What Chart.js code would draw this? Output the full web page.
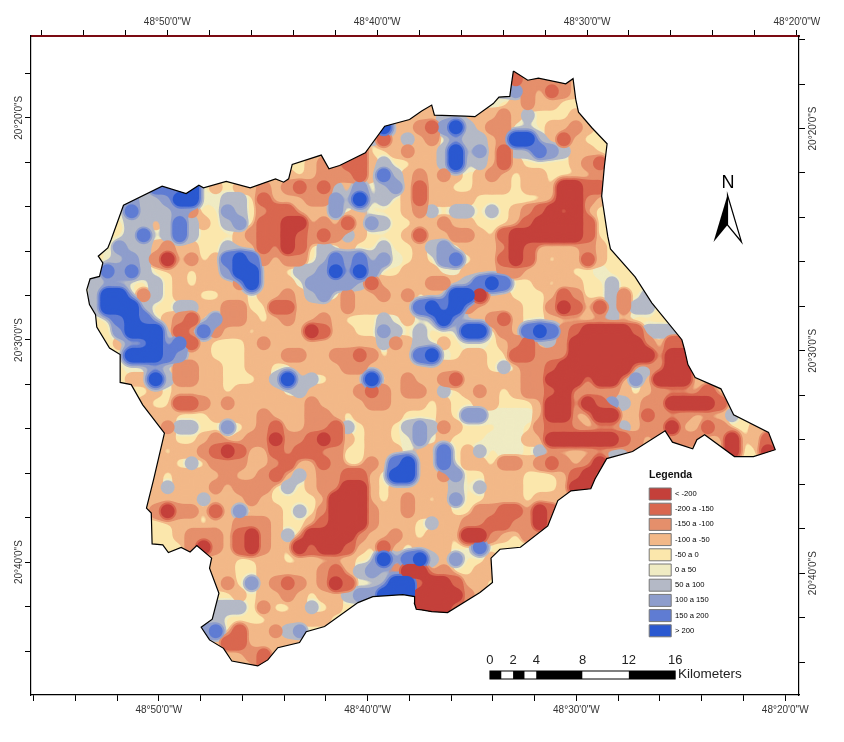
<!DOCTYPE html>
<html>
<head>
<meta charset="utf-8">
<title>Legenda</title>
<script src="https://cdn.jsdelivr.net/npm/chart.js@4/dist/chart.umd.min.js"></script>
<style>
    html, body { margin: 0; padding: 0; background: #fff; }
    canvas { display: block; }
</style>
</head>
<body>
<svg width="0" height="0" style="position:absolute">
    <filter id="smooth" color-interpolation-filters="sRGB">
        <feGaussianBlur stdDeviation="4.5"/>
        <feComponentTransfer><feFuncA type="linear" slope="12" intercept="-4.9"/></feComponentTransfer>
    </filter>
</svg>
<canvas id="mapChart" width="844" height="742"></canvas>
<script>
// Tick values, in minutes of arc
const lonTicks = [56, 54, 52, 50, 48, 46, 44, 42, 40, 38, 36, 34, 32, 30, 28, 26, 24, 22, 20];
const latTicksLeft = [18, 20, 22, 24, 26, 28, 30, 32, 34, 36, 38, 40, 42, 44];
const latTicksRight = [16, 18, 20, 22, 24, 26, 28, 30, 32, 34, 36, 38, 40, 42, 44];
const kmTicks = [0, 2, 4, 8, 12, 16];
const kmSegments = [0, 1, 2, 3, 4, 8, 12, 16];

const classLabels = ['< -200', '-200 a -150', '-150 a -100', '-100 a -50', '-50 a 0', '0 a 50', '50 a 100', '100 a 150', '150 a 200', '> 200'];

// Outline of the basin: minutes west of 48 degrees, minutes south of 20 degrees
const outlineLon = [33.02, 32.33, 31.82, 30.51, 30.16, 30.03, 29.90, 29.26, 28.53, 28.66, 28.79, 28.50, 28.37, 27.19, 26.39, 24.95, 24.82, 24.66, 24.31, 23.08, 22.47, 20.80, 20.48, 21.52, 22.43, 23.86, 24.23, 24.43, 25.40, 25.75, 27.31, 28.55, 29.11, 29.31, 30.26, 30.89, 31.37, 32.68, 33.66, 34.09, 34.02, 34.62, 36.17, 36.93, 37.41, 37.67, 37.76, 37.75, 38.31, 39.75, 40.46, 42.06, 42.94, 43.26, 44.30, 44.78, 45.26, 46.50, 46.90, 47.57, 47.97, 47.44, 47.12, 47.57, 47.47, 48.18, 48.50, 48.93, 49.54, 49.81, 50.32, 50.36, 50.59, 50.25, 49.73, 50.77, 51.32, 51.85, 51.85, 52.36, 52.97, 53.03, 53.32, 53.45, 53.29, 52.84, 52.68, 52.90, 52.44, 52.28, 51.69, 49.84, 48.69, 48.08, 47.86, 46.77, 45.62, 44.41, 44.02, 43.78, 43.61, 42.22, 41.85, 41.34, 40.11, 39.18, 37.99, 37.41, 36.93, 36.80, 35.34, 34.86, 33.98, 33.71, 33.19, 33.10];
const outlineLat = [17.90, 18.31, 18.22, 18.47, 18.24, 19.18, 19.75, 20.45, 21.17, 22.18, 23.53, 25.33, 25.90, 27.16, 28.33, 29.99, 30.44, 31.11, 31.69, 32.20, 33.37, 34.16, 34.94, 35.25, 35.25, 34.27, 34.49, 34.90, 34.60, 34.09, 35.02, 35.34, 36.26, 36.70, 36.79, 37.23, 38.37, 39.33, 39.42, 39.82, 40.92, 41.37, 42.27, 42.23, 42.15, 42.12, 41.85, 41.55, 41.46, 41.55, 41.82, 42.90, 43.13, 43.62, 43.85, 44.40, 44.67, 44.45, 43.88, 43.50, 42.93, 42.57, 41.40, 40.27, 39.82, 39.25, 39.54, 39.34, 39.57, 39.22, 39.18, 37.79, 37.57, 36.29, 34.19, 32.92, 32.01, 31.91, 30.66, 30.36, 29.42, 28.86, 28.41, 27.74, 27.25, 27.14, 26.53, 26.23, 25.86, 25.48, 23.94, 23.08, 23.41, 23.04, 23.15, 22.86, 23.15, 22.75, 22.90, 22.75, 22.10, 21.68, 22.30, 22.15, 21.58, 20.38, 20.08, 19.70, 19.43, 19.88, 19.93, 19.95, 19.36, 19.07, 19.04, 18.42];

// Grid origin and step, in minutes of arc (west edge first, north row first)
const gridLon0 = 53.6;
const gridLonStep = 0.575;
const gridLat0 = 17.73;
const gridLatStep = 0.54;

// Class: 0 is < -200, 9 is > 200, dot is outside
const gridRows = [
    "..... ..... ..... ..... ..... ..... ..... .22..",
    "..... ..... ..... ..... ..... ..... ..... .1222 23...",
    "..... ..... ..... ..... ..... ..... ....6 67231 23...",
    "..... ..... ..... ..... ..... ....3 ....5 43233 44...",
    "..... ..... ..... ..... ..... ...33 66333 23644 43...",
    "..... ..... ..... ..... ..... 93321 79632 24543 323..",
    "..... ..... ..... ..... ....6 13632 46663 29963 1344.",
    "..... ..... ..... ..... ...14 43233 69473 16687 6334.",
    "..... ..... ..... ...43 2.113 64433 69563 13444 4321.",
    "..... ..... ..... ..343 22213 86323 23432 34334 4432.",
    "..... .8879 43433 23212 16374 67313 34433 34334 0011.",
    "....7 66799 45664 14332 27494 64313 33344 44443 0023.",
    "...58 66672 44764 21143 37434 44326 46646 43210 1034.",
    "...46 63686 34674 11004 25137 64433 23344 43100 0014.",
    "..446 84686 44432 11012 12634 44313 32234 10000 0014.",
    "..576 63233 44634 12014 64344 64436 74333 20133 4323.",
    "..467 62032 43898 24224 68786 75434 78433 10134 33134",
    "..878 64434 33799 33466 79797 44333 55333 22333 34454 4....",
    ".6644 46434 33329 33357 77761 33332 23689 84434 33446 44...",
    ".6994 26433 44334 33236 74233 23243 49903 34443 12446 246..",
    ".6999 64466 33224 41133 33233 33389 89233 33442 01316 266..",
    "..489 84321 47223 43243 23444 65344 94332 13443 33446 5444.",
    "..479 99413 82334 33330 13344 76464 44994 23898 21000 01666",
    "..433 49481 34443 23333 33433 62364 34554 32136 20000 00251 1....",
    "...49 99873 34443 33223 32212 43389 54334 41122 20000 00030 0....",
    "...45 44422 33443 34433 33223 33333 33334 64221 00000 03620 0....",
    "...43 39622 33444 36936 43349 53233 21333 33220 00200 37300 04...",
    "....4 43433 33433 33463 33321 23223 64323 43221 03432 34322 3313.",
    "..... 34411 23233 33332 33332 23334 34433 44430 02017 63230 0001.",
    "..... .3344 43333 23332 23433 33444 34775 55530 03300 43122 23336",
    "..... ..266 44743 21332 21643 34676 23444 55421 12433 63220 34124 43...",
    "..... ..344 32432 20221 01343 34574 34445 55330 00000 12322 22330 431..",
    "..... .3433 21014 31211 22443 33433 84364 55463 33336 62... ....0 440..",
    "..... .3346 42223 32135 12442 38933 84334 22321 2320.",
    "..... .3433 33233 21363 22113 49933 27443 33444 310..",
    "..... .3633 32322 24643 22003 43333 36463 33444 300..",
    "..... .3333 63332 34444 30003 43234 37443 33433",
    "..... 32022 41374 33464 20002 33233 34422 11301",
    "..... .4433 43322 23443 10002 33346 33221 1220.",
    "..... .4432 22310 23640 00023 32343 34002 342..",
    "..... ....2 02310 23401 00134 13433 34484 4....",
    "..... ..... .3344 33443 33344 94896 37443",
    "..... ..... .3344 33333 21367 42003 24433",
    "..... ..... .3247 32123 20144 49910 01334",
    "..... ..... .4434 33234 33677 99900 0023.",
    "..... ..... .6664 24436 43... ...00 01...",
    "..... ..... .6444 43333 3....",
    "..... ..... 78413 3267.",
    "..... ..... .3113 3333.",
    "..... ..... ..432 13...",
    "..... ..... ...33 1...."
];

const classColors = ['#C4403A', '#D9674F', '#E58F6B', '#F2B888', '#FBE7AC', '#EFEBC3', '#B4B9C6', '#8E9DCC', '#5F7CD3', '#2A58D0'];
const paintOrder = [5, 3, 6, 2, 7, 1, 8, 0, 9];
const tickFont = { family: "'Liberation Sans', Arial, sans-serif", size: 10 };

// Each class is drawn on its own layer, then blurred and thresholded to get contour edges
const layerCanvas = document.createElement('canvas');
layerCanvas.width = 844;
layerCanvas.height = 742;

// Check the svg filter really works here, otherwise keep plain circles
const filterWorks = (() => {
    const probe = layerCanvas.getContext('2d');
    probe.fillStyle = '#f00';
    probe.beginPath();
    probe.arc(400, 400, 10, 0, Math.PI * 2);
    probe.fill();
    const out = document.createElement('canvas');
    out.width = 844;
    out.height = 742;
    const outCtx = out.getContext('2d');
    if (!('filter' in outCtx)) return false;
    outCtx.filter = 'url(#smooth)';
    outCtx.drawImage(layerCanvas, 0, 0);
    const center = outCtx.getImageData(400, 400, 1, 1).data;
    const far = outCtx.getImageData(400, 430, 1, 1).data;
    probe.clearRect(0, 0, 844, 742);
    return center[3] > 200 && far[3] === 0;
})();

const cellRadius = filterWorks ? 7.8 : 8.6;
const haloStep = filterWorks ? 1.6 : 1.2;

const cells = [];
gridRows.forEach((row, j) => {
    row.replace(/ /g, '').split('').forEach((ch, i) => {
        if (ch === '.') return;
        cells.push({ x: gridLon0 - i * gridLonStep, y: gridLat0 + j * gridLatStep, value: Number(ch) });
    });
});

// Each class also draws around the more extreme cells, which gives nested bands.
// Sorted by x because Chart.js looks up the visible range with a binary search.
const buildLayer = (cls) => {
    const inside = cls < 4 ? c => c.value <= cls : c => c.value >= cls;
    return cells.filter(inside)
        .map(c => ({ x: c.x, y: c.y, r: cellRadius + haloStep * Math.abs(c.value - cls) }))
        .sort((a, b) => a.x - b.x);
};

const layerDatasets = paintOrder.map((cls, k) => ({
    label: classLabels[cls],
    isLayer: true,
    data: buildLayer(cls),
    backgroundColor: classColors[cls],
    borderWidth: 0,
    pointStyle: 'circle',
    pointRadius: ctx => ctx.raw ? ctx.raw.r : 0,
    order: 100 - k
}));

const outlinePoints = outlineLon.map((lon, i) => ({ x: lon, y: outlineLat[i] }));
outlinePoints.push(outlinePoints[0]);

const tracePath = (chart) => {
    const { ctx, scales } = chart;
    ctx.beginPath();
    outlinePoints.forEach((p, i) => {
        const px = scales.x.getPixelForValue(p.x);
        const py = scales.y.getPixelForValue(p.y);
        if (i === 0) ctx.moveTo(px, py); else ctx.lineTo(px, py);
    });
    ctx.closePath();
};

const mapPlugin = {
    id: 'mapPlugin',
    beforeDatasetsDraw(chart) {
        tracePath(chart);
        chart.ctx.fillStyle = classColors[4];
        chart.ctx.fill();
    },
    beforeDatasetDraw(chart, args) {
        if (!chart.data.datasets[args.index].isLayer) return;
        if (filterWorks) {
            const layerCtx = layerCanvas.getContext('2d');
            layerCtx.clearRect(0, 0, 844, 742);
            args.meta.controller._ctx = layerCtx;
        } else {
            chart.ctx.save();
            tracePath(chart);
            chart.ctx.clip();
        }
    },
    afterDatasetDraw(chart, args) {
        if (!chart.data.datasets[args.index].isLayer) return;
        if (filterWorks) {
            args.meta.controller._ctx = chart.ctx;
            chart.ctx.save();
            tracePath(chart);
            chart.ctx.clip();
            chart.ctx.filter = 'url(#smooth)';
            chart.ctx.drawImage(layerCanvas, 0, 0);
            chart.ctx.restore();
        } else {
            chart.ctx.restore();
        }
    },
    beforeDraw(chart) {
        // legend sits inside the frame, at the lower right
        const legend = chart.legend;
        legend.left = 646;
        legend.right = 760;
        legend.top = 484.8;
        legend.bottom = 660;
        legend.width = 114;
        legend.height = 175;
    },
    afterDraw(chart) {
        const { ctx, scales } = chart;
        const km = scales.km;
        const barTop = 671;
        const barHeight = 8;

        ctx.fillStyle = '#111';
        ctx.textAlign = 'left';
        ctx.textBaseline = 'middle';
        ctx.font = "bold 10.5px 'Liberation Sans', Arial, sans-serif";
        ctx.fillText('Legenda', 649, 475);

        // scale bar
        for (let i = 0; i < kmSegments.length - 1; i++) {
            const x0 = km.getPixelForValue(kmSegments[i]);
            const x1 = km.getPixelForValue(kmSegments[i + 1]);
            ctx.fillStyle = i % 2 === 0 ? '#000' : '#fff';
            ctx.fillRect(x0, barTop, x1 - x0, barHeight);
        }
        ctx.strokeStyle = '#000';
        ctx.lineWidth = 1;
        ctx.strokeRect(km.getPixelForValue(0), barTop, km.getPixelForValue(16) - km.getPixelForValue(0), barHeight);

        ctx.fillStyle = '#222';
        ctx.font = "13.5px 'Liberation Sans', Arial, sans-serif";
        ctx.fillText('Kilometers', 678, 674);

        // north arrow
        ctx.textAlign = 'center';
        ctx.fillStyle = '#000';
        ctx.font = "18px 'Liberation Sans', Arial, sans-serif";
        ctx.fillText('N', 728, 183);
        ctx.beginPath();
        ctx.moveTo(727.5, 195);
        ctx.lineTo(713.5, 242);
        ctx.lineTo(727.5, 225);
        ctx.closePath();
        ctx.fillStyle = '#000';
        ctx.fill();
        ctx.beginPath();
        ctx.moveTo(727.5, 195);
        ctx.lineTo(741.5, 242);
        ctx.lineTo(727.5, 225);
        ctx.closePath();
        ctx.fillStyle = '#fff';
        ctx.fill();
        ctx.strokeStyle = '#000';
        ctx.lineWidth = 1.2;
        ctx.stroke();
    }
};

const lonLabel = v => (v % 10 === 0 ? `48°${v}'0"W` : '');
const latLabel = v => (v % 10 === 0 ? `20°${v}'0"S` : '');

const frameAxis = (extra, ticks, label, padding, size, borderColor, borderWidth) => ({
    type: 'linear',
    ...extra,
    grid: { display: true, drawOnChartArea: false, drawTicks: true, tickLength: 6, tickColor: '#000', color: '#000' },
    border: { display: true, color: borderColor, width: borderWidth },
    ticks: {
        autoSkip: false, font: tickFont, color: '#333', padding, callback: label,
        ...(extra.axis === 'y' ? { minRotation: 90, maxRotation: 90, crossAlign: 'center' } : { maxRotation: 0 })
    },
    afterBuildTicks: scale => { scale.ticks = ticks.map(v => ({ value: v })); },
    afterFit: scale => {
        if (extra.axis === 'y') scale.width = size; else scale.height = size;
    }
});

new Chart(document.getElementById('mapChart'), {
    type: 'scatter',
    data: {
        datasets: [
            ...layerDatasets,
            {
                label: 'outline',
                data: outlinePoints,
                showLine: true,
                borderColor: '#000',
                borderWidth: 1.2,
                pointRadius: 0,
                tension: 0,
                order: 0
            }
        ]
    },
    plugins: [mapPlugin],
    options: {
        responsive: false,
        animation: false,
        events: [],
        layout: { padding: 0 },
        plugins: {
            tooltip: { enabled: false },
            legend: {
                position: 'chartArea',
                align: 'start',
                labels: {
                    boxWidth: 22,
                    boxHeight: 12,
                    padding: 3.2,
                    color: '#222',
                    font: { family: tickFont.family, size: 7.6 },
                    generateLabels: () => classLabels.map((text, i) => ({
                        text, fillStyle: classColors[i], strokeStyle: '#777', lineWidth: 1, hidden: false, index: i
                    }))
                }
            }
        },
        scales: {
            x: frameAxis({ axis: 'x', position: 'bottom', reverse: true, min: 19.34, max: 56.12 }, lonTicks, lonLabel, 3, 47, '#000', 1.2),
            xTop: frameAxis({ axis: 'x', position: 'top', reverse: true, min: 19.9, max: 56.49 }, lonTicks, lonLabel, 2, 36, '#7B0A12', 2),
            y: frameAxis({ axis: 'y', position: 'left', reverse: true, min: 16.32, max: 45.98 }, latTicksLeft, latLabel, -16, 31, '#000', 1.2),
            yRight: frameAxis({ axis: 'y', position: 'right', reverse: true, min: 15.84, max: 45.48 }, latTicksRight, latLabel, -14, 45, '#000', 1.2),
            km: {
                type: 'linear',
                axis: 'x',
                position: { y: 43.73 },
                min: -39.65,
                max: 26.7,
                grid: { display: false },
                border: { display: false },
                ticks: {
                    autoSkip: false, maxRotation: 0, padding: 0, color: '#222',
                    font: { family: tickFont.family, size: 13 },
                    callback: v => String(v)
                },
                afterBuildTicks: scale => { scale.ticks = kmTicks.map(v => ({ value: v })); }
            }
        }
    }
});
</script>
</body>
</html>
